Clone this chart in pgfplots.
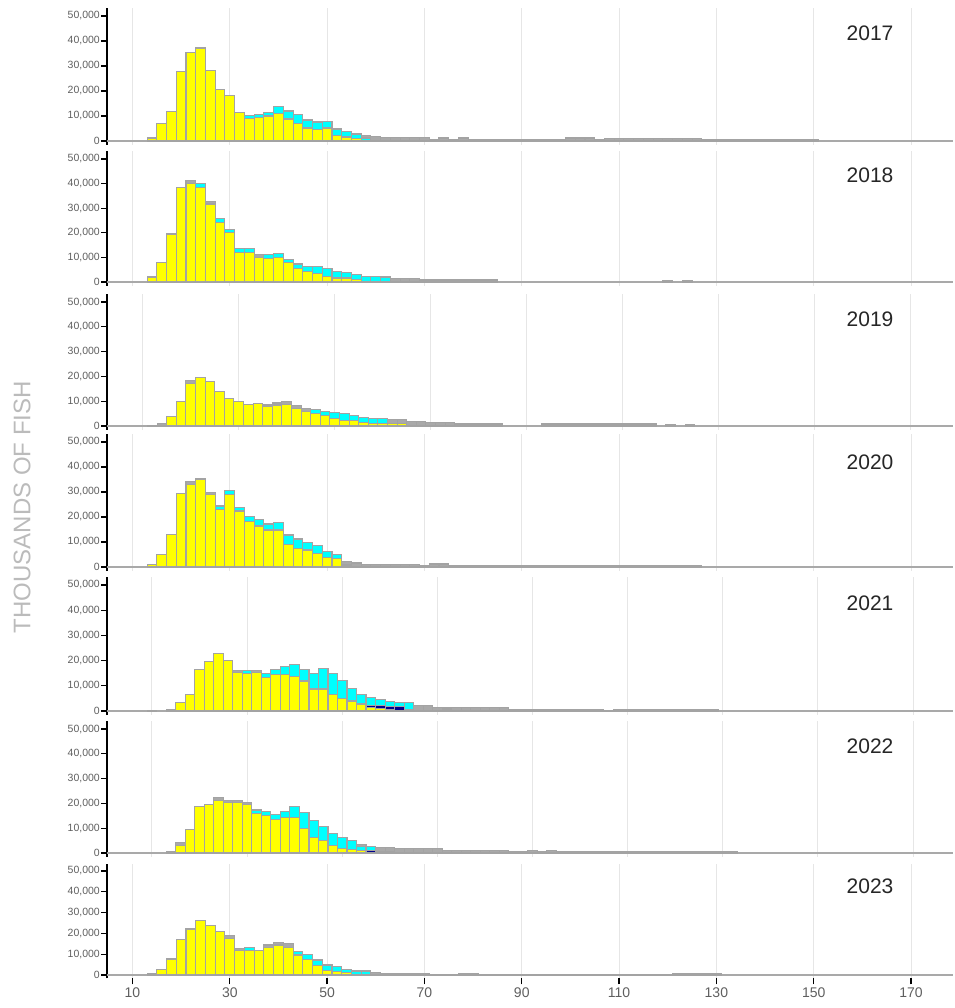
\documentclass[border=0pt]{standalone}
\usepackage{pgfplots}
\pgfplotsset{compat=1.18}
\usepackage{pgfplotstable}
\usepackage{fontspec}
\setmainfont{Liberation Sans}

\definecolor{yel}{HTML}{FFFF00}
\definecolor{cya}{HTML}{00FFFF}
\definecolor{nav}{HTML}{00008B}
\definecolor{gry}{HTML}{A9A9A9}
\definecolor{edge}{HTML}{A3A3A3}
\definecolor{gridc}{HTML}{E6E6E6}
\definecolor{basec}{HTML}{A9A9A9}
\definecolor{tickc}{HTML}{5F5F5F}
\definecolor{labc}{HTML}{BBBBBB}

% length class (x) : yellow, navy, cyan, grey (thousands of fish)
\pgfplotstableread[row sep=\\]{
x y n c g\\
14 1.2 0 0 0\\ 16 7.1 0 0 0\\ 18 11.9 0 0 0\\ 20 27.8 0 0 0\\ 22 35.3 0 0 0\\
24 37.2 0 0 0\\ 26 28.2 0 0 0\\ 28 20.5 0 0 0\\ 30 18.1 0 0 0\\ 32 11.4 0 0 0\\
34 9.0 0 1.2 0\\ 36 9.5 0 1.2 0\\ 38 10.0 0 1.4 0\\ 40 11.1 0 2.7 0\\ 42 8.8 0 3.2 0\\
44 7.1 0 3.6 0\\ 46 5.2 0 3.2 0\\ 48 4.7 0 2.9 0\\ 50 5.2 0 2.6 0\\ 52 2.1 0 2.7 0\\
54 1.6 0 2.1 0\\ 56 1.1 0 1.7 0\\ 58 0 0 1.2 1.1\\ 60 0 0 0 1.7\\ 62 0 0 0 1.3\\
64 0 0 0 1.3\\ 66 0 0 0 1.3\\ 68 0 0 0 1.3\\ 70 0 0 0 1.3\\ 72 0 0 0 0.7\\
74 0 0 0 1.2\\ 76 0 0 0 0.7\\ 78 0 0 0 1.2\\ 80 0 0 0 0.5\\ 82 0 0 0 0.5\\
84 0 0 0 0.5\\ 86 0 0 0 0.5\\ 88 0 0 0 0.5\\ 90 0 0 0 0.5\\ 92 0 0 0 0.5\\
94 0 0 0 0.5\\ 96 0 0 0 0.5\\ 98 0 0 0 0.5\\ 100 0 0 0 1.2\\ 102 0 0 0 1.2\\
104 0 0 0 1.2\\ 106 0 0 0 0.5\\ 108 0 0 0 1.1\\ 110 0 0 0 1.1\\ 112 0 0 0 1.1\\
114 0 0 0 1.1\\ 116 0 0 0 1.1\\ 118 0 0 0 1.1\\ 120 0 0 0 1.1\\ 122 0 0 0 1.1\\
124 0 0 0 1.1\\ 126 0 0 0 1.1\\ 128 0 0 0 0.5\\ 130 0 0 0 0.5\\ 132 0 0 0 0.5\\
134 0 0 0 0.5\\ 136 0 0 0 0.5\\ 138 0 0 0 0.5\\ 140 0 0 0 0.5\\ 142 0 0 0 0.5\\
144 0 0 0 0.5\\ 146 0 0 0 0.5\\ 148 0 0 0 0.5\\ 150 0 0 0 0.5\\
}\tA

\pgfplotstableread[row sep=\\]{
x y n c g\\
14 2.0 0 0 0\\ 16 8.0 0 0 0\\ 18 19.5 0 0 0\\ 20 38.5 0 0 0\\ 22 40.1 0 0 1.1\\
24 38.5 0 1.6 0\\ 26 31.7 0 0 1.0\\ 28 24.3 0 1.6 0\\ 30 20.1 0 1.4 0\\ 32 12.1 0 1.5 0\\
34 12.1 0 1.5 0\\ 36 10.0 0 0 1.0\\ 38 9.6 0 1.4 0\\ 40 10.0 0 1.7 0\\ 42 7.9 0 1.4 0\\
44 5.4 0 1.9 0\\ 46 4.1 0 2.1 0\\ 48 3.5 0 2.7 0\\ 50 2.2 0 3.4 0\\ 52 1.6 0 2.6 0\\
54 1.6 0 2.2 0\\ 56 1.1 0 1.9 0\\ 58 0.3 0 2.1 0\\ 60 0 0 2.4 0\\ 62 0 0 2.0 0\\
64 0 0 0 1.5\\ 66 0 0 0 1.5\\ 68 0 0 0 1.5\\ 70 0 0 0 0.8\\ 72 0 0 0 0.8\\
74 0 0 0 0.8\\ 76 0 0 0 0.8\\ 78 0 0 0 0.8\\ 80 0 0 0 0.8\\ 82 0 0 0 0.8\\
84 0 0 0 0.8\\ 120 0 0 0 0.5\\ 124 0 0 0 0.5\\
}\tB

\pgfplotstableread[row sep=\\]{
x y n c g\\
12 0 0 0 0.2\\ 14 0 0 0 0.9\\ 16 3.8 0 0 0\\ 18 9.8 0 0 0\\ 20 17.3 0 0 1.1\\
22 19.5 0 0 0\\ 24 17.9 0 0 0\\ 26 14.1 0 0 0\\ 28 11.2 0 0 0\\ 30 9.8 0 0 0\\
32 8.7 0 0 0\\ 34 9.0 0 0 0\\ 36 7.8 0 0 0.7\\ 38 8.5 0 0 0.8\\ 40 8.7 0 0 1.2\\
42 7.0 0 0 1.1\\ 44 5.8 0 0 1.2\\ 46 5.2 0 1.5 0\\ 48 4.4 0 1.6 0\\ 50 3.0 0 2.6 0\\
52 2.3 0 2.8 0\\ 54 2.3 0 2.1 0\\ 56 1.6 0 2.0 0\\ 58 0.9 0 2.2 0\\ 60 0.9 0 2.2 0\\
62 0.9 0 0 1.7\\ 64 0.9 0 0 1.7\\ 66 0 0 0 2.0\\ 68 0 0 0 2.0\\ 70 0 0 0 1.3\\
72 0 0 0 1.3\\ 74 0 0 0 1.3\\ 76 0 0 0 0.8\\ 78 0 0 0 0.8\\ 80 0 0 0 0.8\\
82 0 0 0 0.8\\ 84 0 0 0 0.8\\ 94 0 0 0 0.8\\ 96 0 0 0 0.8\\ 98 0 0 0 0.8\\
100 0 0 0 0.8\\ 102 0 0 0 0.8\\ 104 0 0 0 0.8\\ 106 0 0 0 0.8\\ 108 0 0 0 0.8\\
110 0 0 0 0.8\\ 112 0 0 0 0.8\\ 114 0 0 0 0.8\\ 116 0 0 0 0.8\\ 120 0 0 0 0.6\\
124 0 0 0 0.6\\
}\tC

\pgfplotstableread[row sep=\\]{
x y n c g\\
14 0.9 0 0 0\\ 16 5.1 0 0 0\\ 18 12.9 0 0 0\\ 20 29.5 0 0 0\\ 22 33.1 0 0 1.0\\
24 35.2 0 0 0\\ 26 28.9 0 0 1.0\\ 28 23.1 0 1.3 0\\ 30 29.1 0 1.4 0\\ 32 22.4 0 1.5 0\\
34 18.3 0 1.8 0\\ 36 16.4 0 2.7 0\\ 38 14.8 0 2.4 0\\ 40 14.8 0 2.9 0\\ 42 9.1 0 3.7 0\\
44 7.3 0 3.9 0\\ 46 6.8 0 2.9 0\\ 48 5.5 0 3.2 0\\ 50 3.7 0 2.6 0\\ 52 3.3 0 1.8 0\\
54 0.8 0 0 1.3\\ 56 0 0 0 1.6\\ 58 0 0 0 1.1\\ 60 0 0 0 1.1\\ 62 0 0 0 1.1\\
64 0 0 0 1.1\\ 66 0 0 0 1.1\\ 68 0 0 0 1.1\\ 70 0 0 0 0.5\\ 72 0 0 0 1.2\\
74 0 0 0 1.2\\ 76 0 0 0 0.7\\ 78 0 0 0 0.7\\ 80 0 0 0 0.7\\ 82 0 0 0 0.7\\
84 0 0 0 0.7\\ 86 0 0 0 0.7\\ 88 0 0 0 0.7\\ 90 0 0 0 0.7\\ 92 0 0 0 0.7\\
94 0 0 0 0.7\\ 96 0 0 0 0.7\\ 98 0 0 0 0.7\\ 100 0 0 0 0.7\\ 102 0 0 0 0.7\\
104 0 0 0 0.7\\ 106 0 0 0 0.7\\ 108 0 0 0 0.7\\ 110 0 0 0 0.7\\ 112 0 0 0 0.7\\
114 0 0 0 0.7\\ 116 0 0 0 0.7\\ 118 0 0 0 0.7\\ 120 0 0 0 0.7\\ 122 0 0 0 0.7\\
124 0 0 0 0.7\\ 126 0 0 0 0.7\\
}\tD

\pgfplotstableread[row sep=\\]{
x y n c g\\
10 0 0 0 0.3\\ 14 0 0 0 0.7\\ 16 3.3 0 0 0\\ 18 6.7 0 0 0\\ 20 16.3 0 0 0\\
22 19.8 0 0 0\\ 24 22.9 0 0 0\\ 26 20.0 0 0 0\\ 28 15.3 0 0 0.7\\ 30 14.9 0 1.1 0\\
32 15.3 0 0 0.7\\ 34 13.2 0 1.7 0\\ 36 14.3 0 2.0 0\\ 38 14.3 0 3.3 0\\ 40 13.6 0 4.7 0\\
42 11.9 0 4.4 0\\ 44 8.7 0 6.2 0\\ 46 8.7 0 8.2 0\\ 48 6.6 0 8.3 0\\ 50 4.8 0 7.4 0\\
52 3.7 0.6 4.7 0\\ 54 2.4 0.6 3.7 0\\ 56 1.5 0.8 3.1 0\\ 58 1.0 1.0 2.4 0\\ 60 0.5 1.3 1.9 0\\
62 0.3 1.3 1.8 0\\ 64 0.6 0 2.7 0\\ 66 0 0 0 2.0\\ 68 0 0 0 2.0\\ 70 0 0 0 1.3\\
72 0 0.8 0 0.5\\ 74 0 0 0 1.3\\ 76 0 0 0 1.3\\ 78 0 0 0 1.3\\ 80 0 0 0 1.3\\
82 0 0 0 1.3\\ 84 0 0 0 1.3\\ 86 0 0 0 0.7\\ 88 0 0 0 0.7\\ 90 0 0 0 0.7\\
92 0 0 0 0.7\\ 94 0 0 0 0.7\\ 96 0 0 0 0.7\\ 98 0 0 0 0.7\\ 100 0 0 0 0.7\\
102 0 0 0 0.7\\ 104 0 0 0 0.7\\ 106 0 0 0 0.2\\ 108 0 0 0 0.7\\ 110 0 0 0 0.7\\
112 0 0 0 0.7\\ 114 0 0 0 0.7\\ 116 0 0 0 0.7\\ 118 0 0 0 0.7\\ 120 0 0 0 0.7\\
122 0 0 0 0.7\\ 124 0 0 0 0.7\\ 126 0 0 0 0.7\\ 128 0 0 0 0.7\\
}\tE

\pgfplotstableread[row sep=\\]{
x y n c g\\
14 0 0 0 0.8\\ 16 3.2 0 0 1.0\\ 18 9.5 0 0 0\\ 20 18.7 0 0 0\\ 22 19.4 0 0 0\\
24 21.2 0 0 1.1\\ 26 20.3 0 0 0.8\\ 28 20.3 0 0 0.8\\ 30 19.6 0 0 0.8\\ 32 15.9 0 1.1 0.6\\
34 15.3 0 1.6 0\\ 36 13.6 0 2.0 0\\ 38 14.2 0 2.7 0\\ 40 14.2 0 4.5 0\\ 42 9.9 0 6.4 0\\
44 6.3 0 7.0 0\\ 46 5.1 0 5.5 0\\ 48 3.2 0 4.5 0\\ 50 1.9 0 4.4 0\\ 52 1.3 0 3.9 0\\
54 0.9 0 1.8 0.8\\ 56 0.3 0.6 1.8 0\\ 58 0 0.7 0 1.7\\ 60 0 0.7 0 1.7\\ 62 0 0 0 1.9\\
64 0 0 0 1.9\\ 66 0 0 0 1.9\\ 68 0 0 0 1.9\\ 70 0 0 0 1.9\\ 72 0 0 0 1.1\\
74 0 0 0 1.1\\ 76 0 0 0 1.1\\ 78 0 0 0 1.1\\ 80 0 0 0 1.1\\ 82 0 0 0 1.1\\
84 0 0 0 1.1\\ 86 0 0 0 0.4\\ 88 0 0 0 0.4\\ 90 0 0 0 1.0\\ 92 0 0 0 0.4\\
94 0 0 0 1.0\\ 96 0 0 0 0.5\\ 98 0 0 0 0.5\\ 100 0 0 0 0.5\\ 102 0 0 0 0.5\\
104 0 0 0 0.5\\ 106 0 0 0 0.5\\ 108 0 0 0 0.5\\ 110 0 0 0 0.5\\ 112 0 0 0 0.5\\
114 0 0 0 0.5\\ 116 0 0 0 0.5\\ 118 0 0 0 0.5\\ 120 0 0 0 0.5\\ 122 0 0 0 0.5\\
124 0 0 0 0.5\\ 126 0 0 0 0.5\\ 128 0 0 0 0.5\\ 130 0 0 0 0.5\\ 132 0 0 0 0.5\\
}\tF

\pgfplotstableread[row sep=\\]{
x y n c g\\
14 0 0 0 0.8\\ 16 2.7 0 0 0\\ 18 7.7 0 0 0\\ 20 17.1 0 0 0\\ 22 22.1 0 0 0\\
24 26.4 0 0 0\\ 26 23.7 0 0 0\\ 28 20.8 0 0 0\\ 30 17.6 0 0 1.3\\ 32 11.7 0 0 1.1\\
34 11.9 0 1.4 0\\ 36 11.7 0 0 0\\ 38 13.3 0 0 1.1\\ 40 14.4 0 0 1.3\\ 42 13.1 0 0 2.0\\
44 9.6 0 1.6 0\\ 46 7.4 0 2.5 0\\ 48 4.5 0 2.7 0\\ 50 2.2 0 2.6 0\\ 52 1.6 0 2.4 0\\
54 1.0 0 1.6 0\\ 56 0 0 1.9 0\\ 58 0 0 1.9 0\\ 60 0 0 0 1.3\\ 62 0 0 0 0.8\\
64 0 0 0 0.8\\ 66 0 0 0 0.8\\ 68 0 0 0 0.8\\ 70 0 0 0 0.8\\ 72 0 0 0 0.3\\
74 0 0 0 0.3\\ 76 0 0 0 0.3\\ 78 0 0 0 0.8\\ 80 0 0 0 0.8\\ 82 0 0 0 0.3\\
84 0 0 0 0.3\\ 86 0 0 0 0.3\\ 88 0 0 0 0.3\\ 90 0 0 0 0.3\\ 92 0 0 0 0.3\\
94 0 0 0 0.3\\ 96 0 0 0 0.3\\ 98 0 0 0 0.3\\ 100 0 0 0 0.3\\ 102 0 0 0 0.3\\
104 0 0 0 0.3\\ 106 0 0 0 0.3\\ 108 0 0 0 0.3\\ 110 0 0 0 0.3\\ 112 0 0 0 0.3\\
114 0 0 0 0.3\\ 116 0 0 0 0.3\\ 118 0 0 0 0.3\\ 120 0 0 0 0.3\\ 122 0 0 0 0.7\\
124 0 0 0 0.7\\ 126 0 0 0 0.7\\ 128 0 0 0 0.7\\ 130 0 0 0 0.7\\
}\tG

\pgfplotsset{
  panel/.style={
    scale only axis, width=846pt, anchor=north west,
    xmin=4.76, xmax=178.63, ymin=-1.6, ymax=53.2,
    enlargelimits=false, clip=false,
    ybar stacked, bar width=2,
    axis y line*=left, axis x line*=bottom,
    x axis line style={draw=none},
    y axis line style={black, line width=1.8pt},
    tick align=outside, major tick length=6pt,
    ytick={0,10,20,30,40,50},
    yticklabels={0,{10,000},{20,000},{30,000},{40,000},{50,000}},
    yticklabel style={font=\fontsize{10.5}{12}\selectfont, text=tickc, inner sep=1pt},
    ytick style={black, line width=1.3pt},
    xtick={10,30,...,170},
    xmajorgrids, grid style={gridc, line width=1pt},
    extra y ticks={0}, extra y tick labels={},
    extra y tick style={ymajorgrids=true, grid style={basec, line width=1.6pt}},
  },
  toppanel/.style={xmajorticks=false, xticklabels={}},
  segY/.style={fill=yel, draw=edge, line width=1.1pt},
  segN/.style={fill=nav, draw=edge, line width=1.1pt},
  segC/.style={fill=cya, draw=edge, line width=1.1pt},
  segG/.style={fill=gry, draw=edge, line width=1.1pt},
}
\newcommand{\bars}[1]{%
  \addplot[segY] table[x=x,y=y]{#1};
  \addplot[segN] table[x=x,y=n]{#1};
  \addplot[segC] table[x=x,y=c]{#1};
  \addplot[segG] table[x=x,y=g]{#1};
}

\begin{document}
\begin{tikzpicture}
\useasboundingbox (0pt,0pt) rectangle (954pt,-1008pt);

\begin{axis}[panel, toppanel, at={(107pt,-8pt)}, height=137pt]
\bars{\tA}
\end{axis}
\begin{axis}[panel, toppanel, at={(107pt,-151.1pt)}, height=134.8pt]
\bars{\tB}
\end{axis}
\begin{axis}[panel, toppanel, at={(107pt,-294.1pt)}, height=135.9pt, xmin=2.56, xmax=178.8]
\bars{\tC}
\end{axis}
\begin{axis}[panel, toppanel, at={(107pt,-434pt)}, height=137pt]
\bars{\tD}
\end{axis}
\begin{axis}[panel, toppanel, at={(107pt,-576.9pt)}, height=138.1pt, xmin=0.54, xmax=178.4]
\bars{\tE}
\end{axis}
\begin{axis}[panel, toppanel, at={(107pt,-721.1pt)}, height=135.9pt, xmin=0.54, xmax=178.4]
\bars{\tF}
\end{axis}
\begin{axis}[panel, at={(107pt,-864.3pt)}, height=114pt,
    xtick style={black, line width=1.3pt},
    xticklabel style={font=\fontsize{14}{16}\selectfont, text=tickc},
    /pgf/number format/assume math mode=true]
\bars{\tG}
\end{axis}

\node[rotate=90, text=labc, font=\fontsize{24}{28}\selectfont] at (22pt,-507pt) {THOUSANDS OF FISH};
\foreach \yr/\yy in {2017/33, 2018/175, 2019/319, 2020/462, 2021/603, 2022/746, 2023/886}
  \node[text=black!85, font=\fontsize{21}{24}\selectfont] at (870pt,-\yy pt) {\yr};
\end{tikzpicture}
\end{document}
